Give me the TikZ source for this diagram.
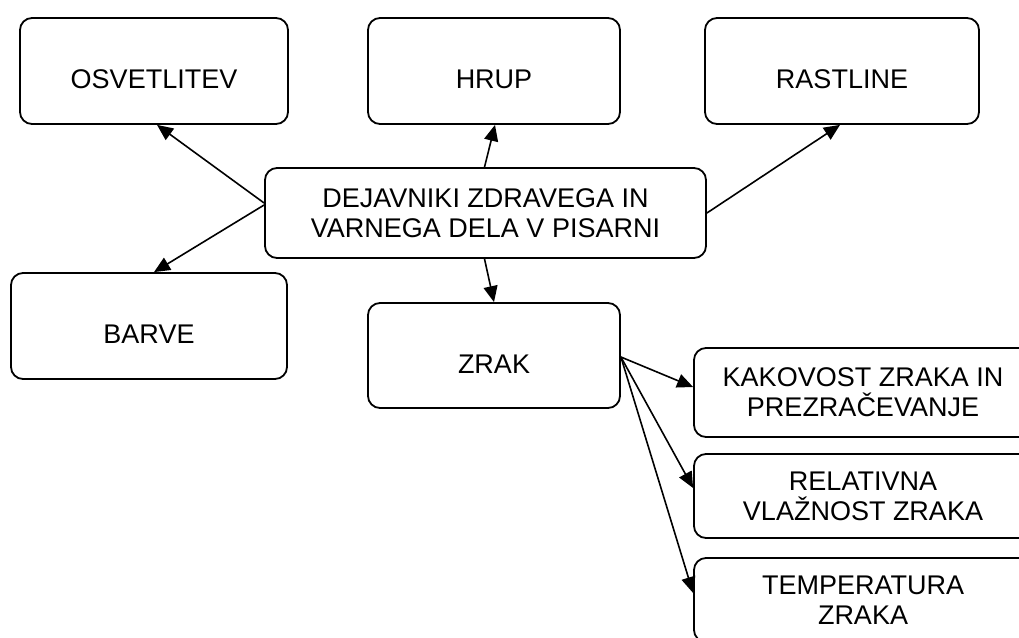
\documentclass[tikz,border=0pt]{standalone}
\usepackage{fontspec}
\setmainfont{Liberation Sans}
\usetikzlibrary{arrows.meta}
\begin{document}
\begin{tikzpicture}[x=1pt,y=-1pt,
  box/.style={draw=black,line width=1.8pt,rounded corners=12pt,inner sep=0pt,
    font=\fontsize{27}{30}\selectfont,align=center},
  onebox/.style={box,text height=37pt,text depth=2pt},
  arr/.style={line width=1.6pt,-{Triangle[length=16pt,width=14pt]}}]
\clip (0,0) rectangle (1019,637);
\fill[white] (0,0) rectangle (1019,637);
\node[box,minimum width=441pt,minimum height=90pt] (c) at (485.5,213) {DEJAVNIKI ZDRAVEGA IN\\VARNEGA DELA V PISARNI};
\node[onebox,minimum width=268pt,minimum height=106pt] (osv) at (154,71) {OSVETLITEV};
\node[onebox,minimum width=252pt,minimum height=106pt] (hrup) at (494,71) {HRUP};
\node[onebox,minimum width=274pt,minimum height=106pt] (rast) at (842,71) {RASTLINE};
\node[onebox,minimum width=276pt,minimum height=106pt] (barve) at (149,326) {BARVE};
\node[onebox,minimum width=252pt,minimum height=105pt] (zrak) at (494,355.5) {ZRAK};
\node[box,minimum width=338pt,minimum height=89pt] (kak) at (863,392.5) {KAKOVOST ZRAKA IN\\PREZRAČEVANJE};
\node[box,minimum width=338pt,minimum height=84pt] (rel) at (863,496) {RELATIVNA\\VLAŽNOST ZRAKA};
\node[box,minimum width=338pt,minimum height=84pt] (temp) at (863,600) {TEMPERATURA\\ZRAKA};
\draw[arr] ([yshift=10pt]c.west) -- ([xshift=3pt]osv.south);
\draw[arr] ([yshift=8pt]c.west) -- ([xshift=5pt]barve.north);
\draw[arr] ([xshift=-1pt]c.north) -- ([xshift=1pt]hrup.south);
\draw[arr] (c.east) -- ([xshift=-2pt]rast.south);
\draw[arr] ([xshift=-1pt]c.south) -- (zrak.north);
\draw[arr] ([yshift=-1.5pt]zrak.east) -- ([yshift=5.5pt]kak.west);
\draw[arr] ([yshift=-1.5pt]zrak.east) -- ([yshift=8pt]rel.west);
\draw[arr] ([yshift=-1.5pt]zrak.east) -- ([yshift=7pt]temp.west);
\end{tikzpicture}
\end{document}
